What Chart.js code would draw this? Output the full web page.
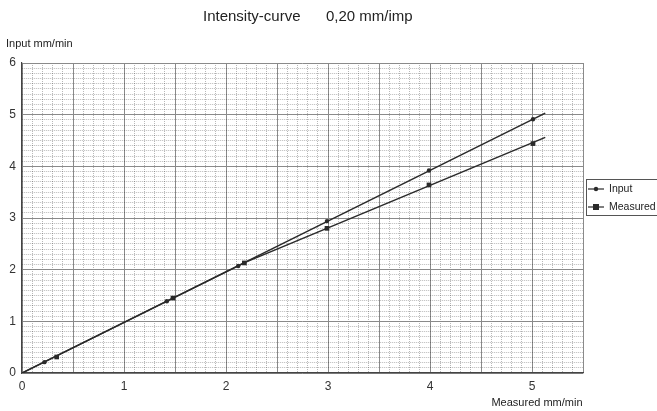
<!DOCTYPE html>
<html>
<head>
<meta charset="utf-8">
<style>
  html, body { margin: 0; padding: 0; background: #fff; }
  canvas { display: block; }
</style>
<script src="https://cdn.jsdelivr.net/npm/chart.js@4"></script>
</head>
<body>
<canvas id="chart" width="657" height="411"></canvas>
<script>
// values
const inputX = [0.22, 1.42, 2.12, 2.99, 3.99, 5.01];
const inputY = [0.21, 1.39, 2.07, 2.94, 3.92, 4.91];
const measuredX = [0.34, 1.48, 2.18, 2.99, 3.99, 5.01];
const measuredY = [0.31, 1.45, 2.13, 2.80, 3.64, 4.44];

// drawn lines (they start at the origin and run a bit past the last point)
const inputLineX = [0, 5.13];
const inputLineY = [0, 5.03];
const measuredLineX = [0, 2.2, 5.13];
const measuredLineY = [0, 2.15, 4.56];

const xTickLabels = ['0', '1', '2', '3', '4', '5'];
const yTickLabels = ['0', '1', '2', '3', '4', '5', '6'];

const FONT = '"Liberation Sans", Arial, sans-serif';
const INK = '#2a2a2a';

const pts = (xs, ys) => xs.map((x, i) => ({ x: x, y: ys[i] }));
const near = (v) => Math.abs(v - Math.round(v)) < 1e-6;

// grid paper look: darker lines on whole / half units, speckled minor lines
function gridColor(major) {
  return (ctx) => (major(ctx.tick.value) ? '#8a8a8a' : 'rgba(0,0,0,0.28)');
}
function gridDash(major) {
  return (ctx) => (ctx.tick && major(ctx.tick.value) ? [] : [1, 1]);
}
const xMajor = (v) => near(v * 2);
const yMajor = (v) => near(v);

// title, axis titles and boxed legend, placed like on the scan
const extras = {
  id: 'extras',
  afterDraw(chart) {
    const c = chart.ctx;
    c.save();
    c.fillStyle = '#222';
    c.textBaseline = 'middle';
    c.textAlign = 'left';
    c.font = '15px ' + FONT;
    c.fillText('Intensity-curve', 203, 17);
    c.fillText('0,20 mm/imp', 326, 17);

    c.font = '11px ' + FONT;
    c.fillText('Input mm/min', 6, 44);
    c.textAlign = 'center';
    c.fillText('Measured mm/min', 537, 403);

    // legend box
    c.strokeStyle = '#555';
    c.lineWidth = 1;
    c.strokeRect(586.5, 179.5, 80, 36);
    const rows = [
      { label: chart.data.datasets[0].label, style: 'circle', y: 189 },
      { label: chart.data.datasets[1].label, style: 'rect', y: 207 }
    ];
    rows.forEach((r) => {
      c.strokeStyle = INK;
      c.lineWidth = 1.2;
      c.beginPath();
      c.moveTo(588, r.y);
      c.lineTo(604, r.y);
      c.stroke();
      c.fillStyle = INK;
      if (r.style === 'circle') {
        c.beginPath();
        c.arc(596, r.y, 2.2, 0, Math.PI * 2);
        c.fill();
      } else {
        c.fillRect(593, r.y - 3, 6, 6);
      }
      c.fillStyle = '#222';
      c.textAlign = 'left';
      c.font = '10.5px ' + FONT;
      c.fillText(r.label, 609, r.y);
    });
    c.restore();
  }
};

new Chart(document.getElementById('chart'), {
  type: 'scatter',
  data: {
    datasets: [
      {
        label: 'Input',
        data: pts(inputX, inputY),
        pointStyle: 'circle',
        pointRadius: 2.2,
        backgroundColor: INK,
        borderColor: INK,
        borderWidth: 0,
        showLine: false
      },
      {
        label: 'Measured',
        data: pts(measuredX, measuredY),
        pointStyle: 'rect',
        pointRadius: 3.3,
        backgroundColor: INK,
        borderColor: INK,
        borderWidth: 0,
        showLine: false
      },
      {
        label: 'Input line',
        data: pts(inputLineX, inputLineY),
        showLine: true,
        pointRadius: 0,
        borderColor: INK,
        borderWidth: 1.5
      },
      {
        label: 'Measured line',
        data: pts(measuredLineX, measuredLineY),
        showLine: true,
        pointRadius: 0,
        borderColor: INK,
        borderWidth: 1.5
      }
    ]
  },
  options: {
    responsive: false,
    animation: false,
    layout: { padding: { top: 63, right: 74, left: 0, bottom: 0 } },
    plugins: {
      legend: { display: false },
      title: { display: false },
      tooltip: { enabled: false }
    },
    scales: {
      x: {
        type: 'linear',
        min: 0,
        max: 5.5,
        afterFit: (s) => { s.height = 38; },
        ticks: {
          stepSize: 0.1,
          autoSkip: false,
          maxRotation: 0,
          padding: 6,
          color: '#333',
          font: { family: FONT, size: 12 },
          callback: (v) => (near(v) && v <= 5 ? xTickLabels[Math.round(v)] : '')
        },
        grid: { color: gridColor(xMajor), lineWidth: 1, drawTicks: false },
        border: { display: true, color: '#444', width: 1.2, dash: gridDash(xMajor) }
      },
      y: {
        type: 'linear',
        min: 0,
        max: 6,
        afterFit: (s) => { s.width = 22; },
        ticks: {
          stepSize: 0.1,
          autoSkip: false,
          padding: 6,
          color: '#333',
          font: { family: FONT, size: 12 },
          callback: (v) => (near(v) ? yTickLabels[Math.round(v)] : '')
        },
        grid: { color: gridColor(yMajor), lineWidth: 1, drawTicks: false },
        border: { display: true, color: '#444', width: 1.2, dash: gridDash(yMajor) }
      }
    }
  },
  plugins: [extras]
});
</script>
</body>
</html>
